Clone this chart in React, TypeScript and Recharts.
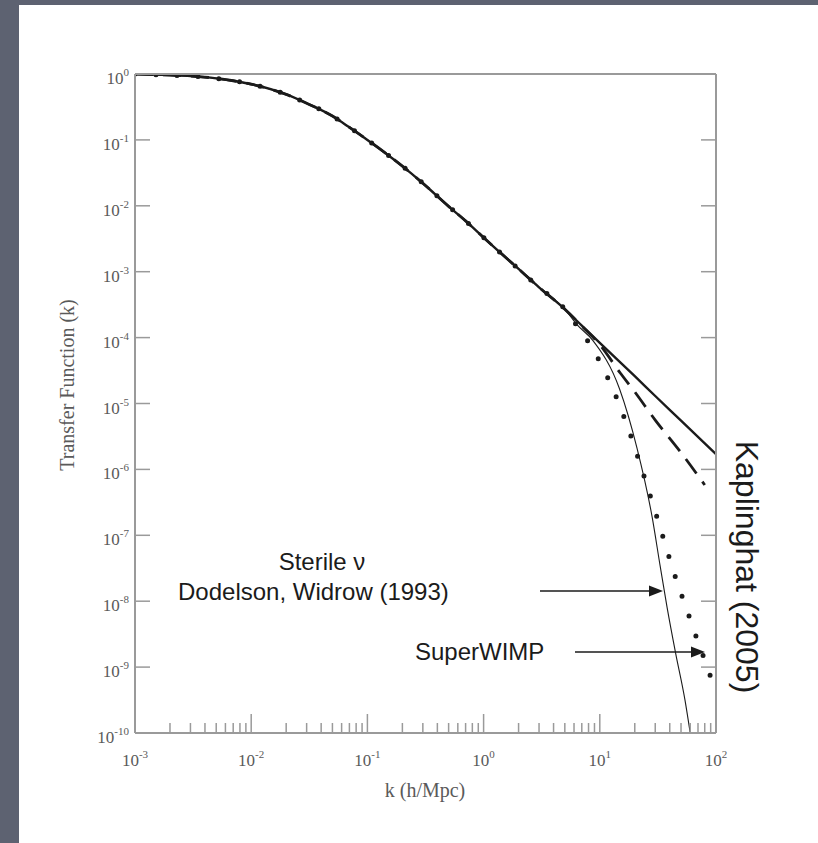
import { LineChart, Line, XAxis, YAxis } from 'recharts';

// k (h/Mpc) and transfer function T(k); all models share the curve up to k ~ 5
const K_SHARED = [0.001, 0.002, 0.003, 0.005, 0.007, 0.01, 0.02, 0.03, 0.05, 0.07, 0.1, 0.2, 0.3, 0.5, 0.7, 1, 2, 3, 5];
const T_SHARED = [1.0, 0.96, 0.93, 0.86, 0.79, 0.7, 0.49, 0.36, 0.23, 0.155, 0.1, 0.04, 0.022, 0.0098, 0.0059, 0.0033, 0.0011, 0.00058, 0.00027];

// small-scale tails of each model
const K_CDM = [7, 10, 20, 30, 50, 100];
const T_CDM = [1.52e-4, 8.3e-5, 2.6e-5, 1.3e-5, 5.5e-6, 1.7e-6];

const K_KAPLINGHAT = [7, 10, 15, 20, 30, 50, 80];
const T_KAPLINGHAT = [1.5e-4, 7.8e-5, 2.9e-5, 1.5e-5, 5.6e-6, 1.8e-6, 5.8e-7];

const K_SUPERWIMP = [6.3, 8, 10, 13.5, 19, 23.5, 31, 46, 54, 62, 70, 83, 94];
const T_SUPERWIMP = [1.55e-4, 8.5e-5, 4.3e-5, 1.4e-5, 2.8e-6, 8.9e-7, 1.9e-7, 2.0e-8, 8.9e-9, 4.5e-9, 2.4e-9, 1.07e-9, 5.6e-10];

const K_STERILE = [6.3, 8.7, 14.8, 20.9, 28.2, 33, 38, 45, 54, 60];
const T_STERILE = [1.6e-4, 9.1e-5, 1.66e-5, 2.1e-6, 1.9e-7, 3.5e-8, 7.9e-9, 1.6e-9, 3.2e-10, 1.0e-10];

const X_DECADES = [0.001, 0.01, 0.1, 1, 10, 100];
const Y_DECADES = [1e-10, 1e-9, 1e-8, 1e-7, 1e-6, 1e-5, 1e-4, 1e-3, 1e-2, 1e-1, 1];

const xTicks: number[] = [];
X_DECADES.forEach((d, i) => {
  xTicks.push(d);
  if (i < X_DECADES.length - 1) for (let m = 2; m <= 9; m++) xTicks.push(d * m);
});

const series = (ks: number[], ts: number[]) =>
  [...K_SHARED, ...ks].map((k, i) => ({ k, t: [...T_SHARED, ...ts][i] }));

const cdm = series(K_CDM, T_CDM);
const kaplinghat = series(K_KAPLINGHAT, T_KAPLINGHAT);
const superwimp = series(K_SUPERWIMP, T_SUPERWIMP);
const sterile = series(K_STERILE, T_STERILE);

const AXIS = '#9a9a9a';
const LABEL = '#5a5a5a';
const INK = '#1b1b1b';
const SERIF = '"Liberation Serif", "DejaVu Serif", serif';
const SANS = '"Liberation Sans", Arial, sans-serif';

const isDecade = (v: number) => Math.abs(Math.log10(v) - Math.round(Math.log10(v))) < 1e-6;

const Pow10 = ({ x, y, exp, anchor }: { x: number; y: number; exp: number; anchor: 'middle' | 'end' }) => (
  <text x={x} y={y} textAnchor={anchor} fontFamily={SERIF} fontSize={17} fill={LABEL}>
    10<tspan dy={-8} fontSize={11}>{exp}</tspan>
  </text>
);

const BottomTick = (props: any) => {
  const { x, y, payload } = props;
  const major = isDecade(payload.value);
  return (
    <g>
      <line x1={x} x2={x} y1={y} y2={y - (major ? 19 : 10)} stroke={AXIS} strokeWidth={1.5} />
      {major && <Pow10 x={x} y={y + 33} exp={Math.round(Math.log10(payload.value))} anchor="middle" />}
    </g>
  );
};

const TopTick = (props: any) => {
  const { x, y, payload } = props;
  const major = isDecade(payload.value);
  return <line x1={x} x2={x} y1={y} y2={y + (major ? 18 : 9)} stroke={AXIS} strokeWidth={1.5} />;
};

const LeftTick = (props: any) => {
  const { x, y, payload } = props;
  return (
    <g>
      <line x1={x} x2={x + 15} y1={y} y2={y} stroke={AXIS} strokeWidth={1.5} />
      <Pow10 x={x - 6} y={y + 10} exp={Math.round(Math.log10(payload.value))} anchor="end" />
    </g>
  );
};

const RightTick = (props: any) => {
  const { x, y } = props;
  return <line x1={x} x2={x - 15} y1={y} y2={y} stroke={AXIS} strokeWidth={1.5} />;
};

const axisLine = { stroke: AXIS, strokeWidth: 2 };

const Arrow = ({ x1, x2, y }: { x1: number; x2: number; y: number }) => (
  <g>
    <line x1={x1} x2={x2 - 12} y1={y} y2={y} stroke={INK} strokeWidth={1.6} />
    <polygon points={`${x2},${y} ${x2 - 14},${y - 5.5} ${x2 - 14},${y + 5.5}`} fill={INK} />
  </g>
);

export default function App() {
  return (
    <div style={{ position: 'absolute', left: 0, top: 0, width: 818, height: 843, background: '#5d6271' }}>
      <div style={{ position: 'absolute', left: 19, top: 5, right: 0, bottom: 0, background: '#ffffff' }} />
      <div style={{ position: 'absolute', left: 0, top: 0 }}>
        <LineChart width={818} height={843} margin={{ top: 73, right: 101, bottom: 10, left: 75 }}>
          <XAxis
            dataKey="k"
            type="number"
            scale="log"
            domain={[0.001, 100]}
            allowDataOverflow
            ticks={xTicks}
            interval={0}
            tick={BottomTick}
            tickLine={false}
            tickSize={0}
            tickMargin={0}
            axisLine={axisLine}
            height={100}
          />
          <XAxis
            xAxisId="top"
            orientation="top"
            type="number"
            scale="log"
            domain={[0.001, 100]}
            allowDataOverflow
            ticks={xTicks}
            interval={0}
            tick={TopTick}
            tickLine={false}
            tickSize={0}
            tickMargin={0}
            axisLine={axisLine}
            height={1}
          />
          <YAxis
            type="number"
            scale="log"
            domain={[1e-10, 1]}
            allowDataOverflow
            ticks={Y_DECADES}
            interval={0}
            tick={LeftTick}
            tickLine={false}
            tickSize={0}
            tickMargin={0}
            axisLine={axisLine}
            width={60}
          />
          <YAxis
            yAxisId="right"
            orientation="right"
            type="number"
            scale="log"
            domain={[1e-10, 1]}
            allowDataOverflow
            ticks={Y_DECADES}
            interval={0}
            tick={RightTick}
            tickLine={false}
            tickSize={0}
            tickMargin={0}
            axisLine={axisLine}
            width={1}
          />
          <Line data={sterile} dataKey="t" type="monotone" stroke={INK} strokeWidth={1.1} dot={false} activeDot={false} isAnimationActive={false} />
          <Line data={superwimp} dataKey="t" type="monotone" stroke={INK} strokeWidth={5} strokeLinecap="round" strokeDasharray="0 21" dot={false} activeDot={false} isAnimationActive={false} />
          <Line data={kaplinghat} dataKey="t" type="monotone" stroke={INK} strokeWidth={2.8} strokeDasharray="18 10" dot={false} activeDot={false} isAnimationActive={false} />
          <Line data={cdm} dataKey="t" type="monotone" stroke={INK} strokeWidth={2.4} dot={false} activeDot={false} isAnimationActive={false} />
        </LineChart>
      </div>
      <svg width={818} height={843} style={{ position: 'absolute', left: 0, top: 0, pointerEvents: 'none' }}>
        <text x={425} y={797} textAnchor="middle" fontFamily={SERIF} fontSize={20} fill={LABEL}>k (h/Mpc)</text>
        <text transform="translate(74, 385) rotate(-90)" textAnchor="middle" fontFamily={SERIF} fontSize={20} fill={LABEL}>
          Transfer Function (k)
        </text>
        <text x={322} y={570} textAnchor="middle" fontFamily={SANS} fontSize={24} fill={INK}>Sterile ν</text>
        <text x={178} y={600} fontFamily={SANS} fontSize={24} fill={INK}>Dodelson, Widrow (1993)</text>
        <Arrow x1={540} x2={663} y={591} />
        <text x={415} y={660} fontFamily={SANS} fontSize={24} fill={INK}>SuperWIMP</text>
        <Arrow x1={575} x2={705} y={652} />
        <text transform="translate(736, 567) rotate(90)" textAnchor="middle" fontFamily={SANS} fontSize={32} fill={INK}>
          Kaplinghat (2005)
        </text>
      </svg>
    </div>
  );
}
